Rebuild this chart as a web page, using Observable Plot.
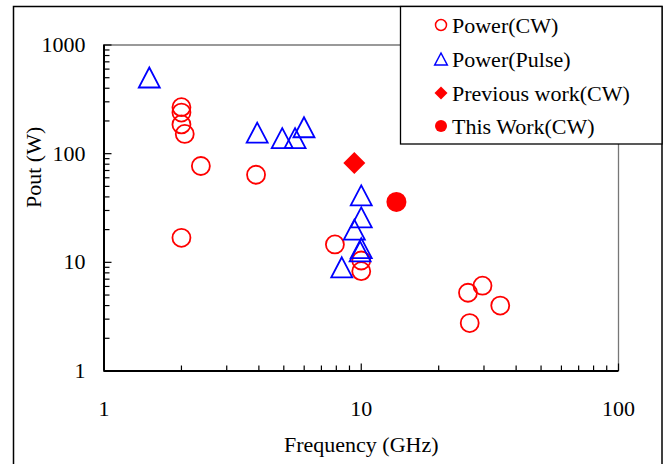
<!DOCTYPE html>
<html>
<head>
<meta charset="utf-8">
<script src="https://cdn.jsdelivr.net/npm/d3@7"></script>
<script src="https://cdn.jsdelivr.net/npm/@observablehq/plot@0.6"></script>
<style>
  html, body { margin: 0; padding: 0; background: #fff; }
</style>
</head>
<body>
<div id="chart"></div>
<script>
// ---- data ----
const cwFreq   = [2.0, 2.0, 2.0, 2.06, 2.0, 2.38, 3.9, 7.9, 10, 10, 26, 29.6, 34.7, 26.4];
const cwPower  = [268, 239, 186, 152, 16.8, 77, 64, 14.6, 10.4, 8.3, 5.25, 6.1, 4.0, 2.76];

const pulseFreq  = [1.5, 3.94, 4.93, 5.53, 5.99, 10, 10, 9.4, 10, 9.9, 8.4];
const pulsePower = [502, 156, 139, 139, 175, 41.3, 25.9, 20.0, 13.5, 12.6, 9.0];

const prevFreq  = [9.4];
const prevPower = [82];

const thisFreq  = [13.7];
const thisPower = [36];

const legendLabels = ["Power(CW)", "Power(Pulse)", "Previous work(CW)", "This Work(CW)"];

const xMajor = [1, 10, 100];
const xMinor = [2, 3, 4, 5, 6, 7, 8, 9, 20, 30, 40, 50, 60, 70, 80, 90];
const yMajor = [1, 10, 100, 1000];
const yMinor = [2, 3, 4, 5, 6, 7, 8, 9, 20, 30, 40, 50, 60, 70, 80, 90, 200, 300, 400, 500, 600, 700, 800, 900];

const xTitle = "Frequency (GHz)";
const yTitle = "Pout (W)";

// ---- helpers ----
const zip = (xs, ys) => xs.map((x, i) => ({x, y: ys[i]}));
const triangleSym = {
  draw(ctx, size) {
    const r = Math.sqrt(size / Math.PI);
    ctx.moveTo(0, -r);
    ctx.lineTo(r * 1.05, r);
    ctx.lineTo(-r * 1.05, r);
    ctx.closePath();
  }
};
const diamondSym = {
  draw(ctx, size) {
    const r = Math.sqrt(size / Math.PI);
    ctx.moveTo(0, -r);
    ctx.lineTo(r, 0);
    ctx.lineTo(0, r);
    ctx.lineTo(-r, 0);
    ctx.closePath();
  }
};

const FONT = "'Liberation Serif', 'Times New Roman', serif";
const fmt = d => String(d);
const blank = () => "";
const tickStyle = {label: null, tickFormat: blank, stroke: "#000", strokeWidth: 1.2};

const chart = Plot.plot({
  width: 669,
  height: 464,
  marginLeft: 103.5,
  marginRight: 51,
  marginTop: 44.5,
  marginBottom: 93.5,
  style: {fontFamily: FONT, fontSize: "22px", background: "#fff", color: "#000"},
  x: {type: "log", domain: [1, 100]},
  y: {type: "log", domain: [1, 1000]},
  marks: [
    // frame: grey top/right
    Plot.ruleY([1000], {stroke: "#777", strokeWidth: 1.3}),
    Plot.ruleX([100], {stroke: "#777", strokeWidth: 1.3}),
    // inward ticks (right-pointing ticks on the left edge, up-pointing on the bottom)
    Plot.axisY(yMinor, {...tickStyle, anchor: "right", frameAnchor: "left", tickSize: 5}),
    Plot.axisY(yMajor, {...tickStyle, anchor: "right", frameAnchor: "left", tickSize: 7}),
    Plot.axisX(xMinor, {...tickStyle, anchor: "top", frameAnchor: "bottom", tickSize: 6}),
    Plot.axisX(xMajor, {...tickStyle, anchor: "top", frameAnchor: "bottom", tickSize: 8}),
    // tick labels
    Plot.axisY(yMajor, {anchor: "left", tickSize: 0, tickPadding: 18.5, tickFormat: fmt, label: null, fontSize: 22, fill: "#000"}),
    Plot.axisX(xMajor, {anchor: "bottom", tickSize: 0, tickPadding: 29, tickFormat: fmt, label: null, fontSize: 22, fill: "#000"}),
    // black axis lines left/bottom
    Plot.ruleX([1], {stroke: "#000", strokeWidth: 2}),
    Plot.ruleY([1], {stroke: "#000", strokeWidth: 2}),
    // titles
    Plot.text([xTitle], {frameAnchor: "bottom", dy: 74, text: d => d, fontSize: 22, fill: "#000", lineAnchor: "middle"}),
    Plot.text([yTitle], {frameAnchor: "left", dx: -70, rotate: -90, text: d => d, fontSize: 22, fill: "#000", lineAnchor: "middle"}),
    // data
    Plot.dot(zip(cwFreq, cwPower), {x: "x", y: "y", r: 9, stroke: "#ff0000", strokeWidth: 1.8, fill: "none"}),
    Plot.dot(zip(pulseFreq, pulsePower), {x: "x", y: "y", r: 10, symbol: triangleSym, stroke: "#0000ff", strokeWidth: 1.8, fill: "none"}),
    Plot.dot(zip(prevFreq, prevPower), {x: "x", y: "y", r: 11, symbol: diamondSym, fill: "#ff0000", stroke: "none"}),
    Plot.dot(zip(thisFreq, thisPower), {x: "x", y: "y", r: 10, fill: "#ff0000", stroke: "none"})
  ]
});

document.getElementById("chart").appendChild(chart);

// ---- outer border and legend ----
const svg = d3.select(chart);
svg.append("rect")
  .attr("x", 13.5).attr("y", 6.5).attr("width", 648.5).attr("height", 490)
  .attr("fill", "none").attr("stroke", "#000").attr("stroke-width", 1.5);

const lg = svg.append("g");
lg.append("rect")
  .attr("x", 400.5).attr("y", 6.5).attr("width", 261.5).attr("height", 137.5)
  .attr("fill", "#fff").attr("stroke", "#000").attr("stroke-width", 1.3);

const rowY = [25, 59, 93, 126];
const legendSyms = [
  {type: d3.symbolCircle, r: 5.5, fill: "none", stroke: "#ff0000"},
  {type: triangleSym, r: 6, fill: "none", stroke: "#0000ff"},
  {type: diamondSym, r: 6.5, fill: "#ff0000", stroke: "none"},
  {type: d3.symbolCircle, r: 6, fill: "#ff0000", stroke: "none"}
];
legendLabels.forEach((label, i) => {
  const s = legendSyms[i];
  lg.append("path")
    .attr("transform", `translate(441,${rowY[i]})`)
    .attr("d", d3.symbol(s.type, s.r * s.r * Math.PI)())
    .attr("fill", s.fill).attr("stroke", s.stroke).attr("stroke-width", 1.5);
  lg.append("text")
    .attr("x", 452).attr("y", rowY[i]).attr("dy", "0.35em")
    .attr("text-anchor", "start")
    .attr("font-family", FONT).attr("font-size", 22).attr("fill", "#000")
    .text(label);
});
</script>
</body>
</html>
